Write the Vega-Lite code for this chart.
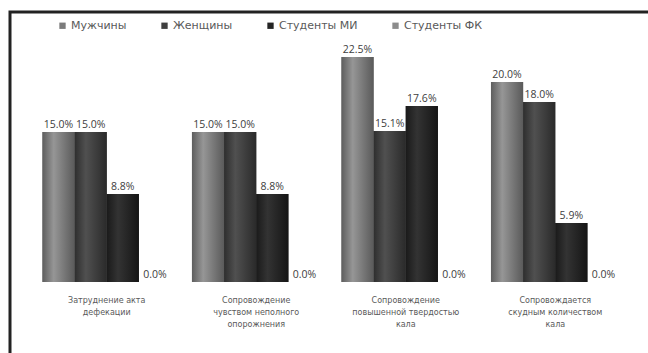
{
  "$schema": "https://vega.github.io/schema/vega-lite/v6.json",
  "width": 642,
  "height": 345,
  "autosize": {"type": "none"},
  "padding": {"left": 10, "top": 12, "right": 0, "bottom": 0},
  "background": "white",
  "config": {
    "view": {"stroke": "#222222", "strokeWidth": 3},
    "font": "DejaVu Sans"
  },
  "data": {
    "values": [
      {"cat": "Затруднение акта|дефекации", "group": "Мужчины", "v": 0.150},
      {"cat": "Затруднение акта|дефекации", "group": "Женщины", "v": 0.150},
      {"cat": "Затруднение акта|дефекации", "group": "Студенты МИ", "v": 0.088},
      {"cat": "Затруднение акта|дефекации", "group": "Студенты ФК", "v": 0.0},
      {"cat": "Сопровождение|чувством неполного|опорожнения", "group": "Мужчины", "v": 0.150},
      {"cat": "Сопровождение|чувством неполного|опорожнения", "group": "Женщины", "v": 0.150},
      {"cat": "Сопровождение|чувством неполного|опорожнения", "group": "Студенты МИ", "v": 0.088},
      {"cat": "Сопровождение|чувством неполного|опорожнения", "group": "Студенты ФК", "v": 0.0},
      {"cat": "Сопровождение|повышенной твердостью|кала", "group": "Мужчины", "v": 0.225},
      {"cat": "Сопровождение|повышенной твердостью|кала", "group": "Женщины", "v": 0.151},
      {"cat": "Сопровождение|повышенной твердостью|кала", "group": "Студенты МИ", "v": 0.176},
      {"cat": "Сопровождение|повышенной твердостью|кала", "group": "Студенты ФК", "v": 0.0},
      {"cat": "Сопровождается|скудным количеством|кала", "group": "Мужчины", "v": 0.200},
      {"cat": "Сопровождается|скудным количеством|кала", "group": "Женщины", "v": 0.180},
      {"cat": "Сопровождается|скудным количеством|кала", "group": "Студенты МИ", "v": 0.059},
      {"cat": "Сопровождается|скудным количеством|кала", "group": "Студенты ФК", "v": 0.0}
    ]
  },
  "encoding": {
    "x": {
      "field": "cat",
      "type": "nominal",
      "sort": null,
      "scale": {"paddingInner": 0.14, "paddingOuter": 0.217},
      "axis": {
        "title": null,
        "orient": "bottom",
        "offset": -75,
        "domain": false,
        "ticks": false,
        "labelAngle": 0,
        "labelPadding": 14,
        "labelFontSize": 8,
        "labelColor": "#595959",
        "labelLineHeight": 12,
        "labelExpr": "split(datum.label, '|')"
      }
    },
    "xOffset": {
      "field": "group",
      "type": "nominal",
      "sort": ["Мужчины", "Женщины", "Студенты МИ", "Студенты ФК"],
      "scale": {"paddingInner": 0, "paddingOuter": 0}
    },
    "y": {
      "field": "v",
      "type": "quantitative",
      "scale": {"domain": [-0.075, 0.27], "nice": false, "zero": false},
      "axis": null
    }
  },
  "layer": [
    {
      "mark": {"type": "bar"},
      "encoding": {
        "y2": {"datum": 0},
        "color": {
          "field": "group",
          "type": "nominal",
          "sort": ["Мужчины", "Женщины", "Студенты МИ", "Студенты ФК"],
          "scale": {
            "domain": ["Мужчины", "Женщины", "Студенты МИ", "Студенты ФК"],
            "range": ["#7b7b7b", "#3f3f3f", "#242424", "#8c8c8c"]
          },
          "legend": {
            "title": null,
            "orient": "none",
            "direction": "horizontal",
            "legendX": 47,
            "legendY": 8,
            "symbolType": "square",
            "symbolSize": 40,
            "symbolStrokeWidth": 0,
            "labelFontSize": 11,
            "labelColor": "#595959",
            "columnPadding": 32,
            "labelOffset": 3
          }
        }
      }
    },
    {
      "transform": [{"filter": "datum.group === 'Мужчины'"}],
      "mark": {
        "type": "bar",
        "color": {"gradient": "linear", "x1": 0, "x2": 1, "y1": 0, "y2": 0,
          "stops": [{"offset": 0, "color": "#5e5e5e"}, {"offset": 0.35, "color": "#969696"}, {"offset": 1, "color": "#5a5a5a"}]}
      },
      "encoding": {"y2": {"datum": 0}}
    },
    {
      "transform": [{"filter": "datum.group === 'Женщины'"}],
      "mark": {
        "type": "bar",
        "color": {"gradient": "linear", "x1": 0, "x2": 1, "y1": 0, "y2": 0,
          "stops": [{"offset": 0, "color": "#2e2e2e"}, {"offset": 0.35, "color": "#505050"}, {"offset": 1, "color": "#2a2a2a"}]}
      },
      "encoding": {"y2": {"datum": 0}}
    },
    {
      "transform": [{"filter": "datum.group === 'Студенты МИ'"}],
      "mark": {
        "type": "bar",
        "color": {"gradient": "linear", "x1": 0, "x2": 1, "y1": 0, "y2": 0,
          "stops": [{"offset": 0, "color": "#1a1a1a"}, {"offset": 0.35, "color": "#333333"}, {"offset": 1, "color": "#151515"}]}
      },
      "encoding": {"y2": {"datum": 0}}
    },
    {
      "mark": {"type": "text", "dy": -7, "fontSize": 10.5, "color": "#404040", "font": "Open Sans"},
      "encoding": {
        "text": {"field": "v", "type": "quantitative", "format": ".1%"},
        "detail": {"field": "group"}
      }
    }
  ]
}
